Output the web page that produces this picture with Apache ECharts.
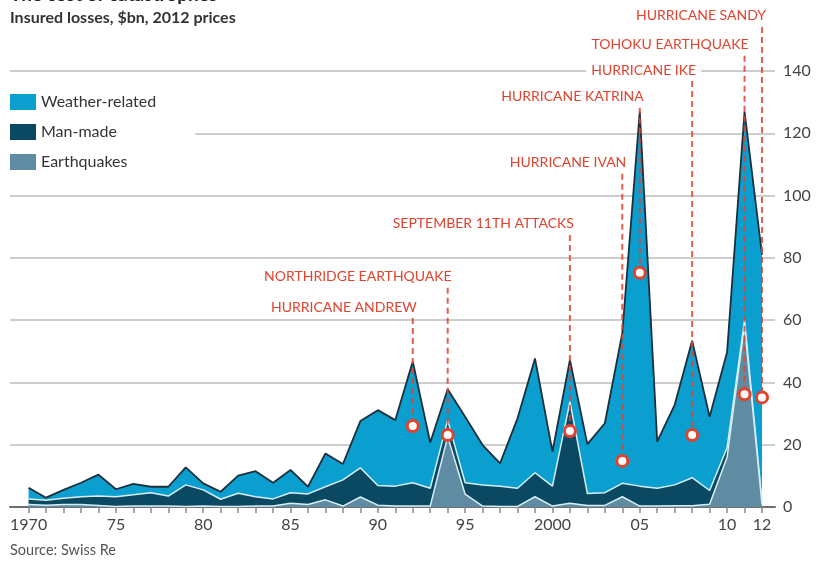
<!DOCTYPE html>
<html>
<head>
<meta charset="utf-8">
<title>The cost of catastrophes</title>
<script src="https://cdn.jsdelivr.net/npm/echarts@6/dist/echarts.min.js"></script>
<style>
  html, body { margin: 0; padding: 0; background: #fff; }
  #chart { width: 817px; height: 563px; }
</style>
</head>
<body>
<div id="chart"></div>
<script>
// Insured catastrophe losses by type, $bn at 2012 prices
const years = ['1970', '1971', '1972', '1973', '1974', '1975', '1976', '1977', '1978', '1979',
               '1980', '1981', '1982', '1983', '1984', '1985', '1986', '1987', '1988', '1989',
               '1990', '1991', '1992', '1993', '1994', '1995', '1996', '1997', '1998', '1999',
               '2000', '2001', '2002', '2003', '2004', '2005', '2006', '2007', '2008', '2009',
               '2010', '2011', '2012'];

const earthquakes = [0.8, 0.6, 0.8, 0.8, 0.5, 0.2, 0.3, 0.3, 0.3, 0.2,
                     0.3, 0.2, 0.2, 0.3, 0.3, 1.2, 0.8, 2.3, 0.3, 3.2,
                     0.6, 0.3, 0.3, 0.3, 22.6, 4.1, 0.3, 0.2, 0.2, 3.3,
                     0.3, 1.2, 0.5, 0.5, 3.3, 0.3, 0.3, 0.4, 0.4, 0.9,
                     16.0, 58.4, 0.8];

const manMade = [1.8, 1.6, 2.0, 2.5, 3.0, 3.1, 3.6, 4.3, 3.2, 6.9,
                 5.2, 2.3, 4.2, 3.0, 2.3, 3.4, 3.4, 4.2, 8.4, 9.4,
                 6.3, 6.4, 7.5, 5.7, 5.3, 3.7, 6.8, 6.5, 5.8, 7.7,
                 6.4, 32.6, 3.8, 4.1, 4.3, 6.4, 5.7, 6.7, 9.0, 4.4,
                 3.0, 1.6, 1.0];

const weatherRelated = [3.6, 0.8, 2.7, 4.5, 6.9, 2.4, 3.5, 1.9, 3.0, 5.6,
                        2.1, 2.4, 5.7, 8.2, 5.2, 7.3, 2.3, 10.7, 5.1, 15.0,
                        24.2, 21.2, 38.9, 14.7, 9.9, 21.2, 12.8, 7.3, 22.5, 36.7,
                        11.1, 13.4, 15.9, 22.3, 48.2, 120.3, 15.0, 25.7, 44.0, 23.7,
                        30.7, 67.0, 79.2];

// Notable events: year and loss level of the marker
const eventNames = ['HURRICANE ANDREW', 'NORTHRIDGE EARTHQUAKE', 'SEPTEMBER 11TH ATTACKS',
                    'HURRICANE IVAN', 'HURRICANE KATRINA', 'HURRICANE IKE',
                    'TOHOKU EARTHQUAKE', 'HURRICANE SANDY'];
const eventYears = ['1992', '1994', '2001', '2004', '2005', '2008', '2011', '2012'];
const eventLosses = [26.0, 23.1, 24.4, 14.8, 75.2, 23.1, 36.2, 35.2];

// Height (on the $bn scale) where each event caption sits
const captionLevels = [64.2, 73.9, 90.9, 110.5, 131.7, 140.3, 148.4, 157.7];

// Axis tick labels
const yTicks = [0, 20, 40, 60, 80, 100, 120, 140];
const xTickLabels = { '1970': '1970', '1975': '75', '1980': '80', '1985': '85', '1990': '90',
                      '1995': '95', '2000': '2000', '2005': '05', '2010': '10', '2012': '12' };

const FONT = 'Lato, "Open Sans", sans-serif';
const RED = '#e2432f';
const C_WEATHER = '#0a9fcf';
const C_MAN = '#0b4862';
const C_QUAKE = '#5f8ca2';
const C_SEAM = '#d7eef6';

const chart = echarts.init(document.getElementById('chart'), null, { renderer: 'canvas' });

const option = {
  backgroundColor: '#ffffff',
  animation: false,
  textStyle: { fontFamily: FONT },
  title: [
    { text: 'The cost of catastrophes', left: 10, top: -15, padding: 0,
      textStyle: { fontSize: 19, fontWeight: 'bold', color: '#222', fontFamily: FONT } },
    { text: 'Insured losses, $bn, 2012 prices', left: 10, top: 10, padding: 0,
      textStyle: { fontSize: 16, fontWeight: 'bold', color: '#333', fontFamily: FONT } },
    { text: 'Source: Swiss Re', left: 10, top: 543, padding: 0,
      textStyle: { fontSize: 14.5, fontWeight: 'normal', color: '#555', fontFamily: FONT } }
  ],
  legend: {
    orient: 'vertical',
    left: 10, top: 87,
    padding: [7, 39, 7, 0],
    backgroundColor: '#fff',
    itemWidth: 26, itemHeight: 16, itemGap: 14,
    icon: 'rect',
    data: ['Weather-related', 'Man-made', 'Earthquakes'],
    textStyle: { fontSize: 16, color: '#333', fontFamily: FONT }
  },
  grid: [
    { left: 28.6, right: 55, top: 71, bottom: 56 },
    { left: 10, right: 42, top: 71, bottom: 56 }
  ],
  xAxis: [
    { gridIndex: 0, type: 'category', data: years, boundaryGap: false,
      axisLine: { show: false },
      axisTick: { show: true, interval: 0, length: 6, lineStyle: { color: '#8a8a8a', width: 1.5 } },
      axisLabel: { show: true, interval: 0, margin: 10, fontSize: 16, color: '#444', fontFamily: FONT,
                   formatter: v => xTickLabels[v] || '' },
      splitLine: { show: false } },
    { gridIndex: 1, type: 'value', min: 0, max: 1,
      axisLine: { show: true, onZero: false, lineStyle: { color: '#6e6e6e', width: 2 } },
      axisTick: { show: false }, axisLabel: { show: false }, splitLine: { show: false } }
  ],
  yAxis: [
    { gridIndex: 0, type: 'value', min: yTicks[0], max: yTicks[yTicks.length - 1],
      show: false, splitLine: { show: false } },
    { gridIndex: 1, type: 'value', position: 'right', min: yTicks[0], max: yTicks[yTicks.length - 1], interval: 20,
      axisLine: { show: false }, axisTick: { show: false },
      axisLabel: { show: true, margin: 8, fontSize: 16, color: '#444', fontFamily: FONT },
      splitLine: { show: true, lineStyle: { color: '#bdbdbd', width: 1.5 } } }
  ],
  series: [
    { name: 'Earthquakes', type: 'line', xAxisIndex: 0, yAxisIndex: 0, stack: 'losses',
      data: earthquakes, symbol: 'none', z: 4,
      lineStyle: { color: C_SEAM, width: 1.5 },
      areaStyle: { color: C_QUAKE, opacity: 1 },
      itemStyle: { color: C_QUAKE } },
    { name: 'Man-made', type: 'line', xAxisIndex: 0, yAxisIndex: 0, stack: 'losses',
      data: manMade, symbol: 'none', z: 3,
      lineStyle: { color: C_SEAM, width: 1.5 },
      areaStyle: { color: C_MAN, opacity: 1 },
      itemStyle: { color: C_MAN } },
    { name: 'Weather-related', type: 'line', xAxisIndex: 0, yAxisIndex: 0, stack: 'losses',
      data: weatherRelated, symbol: 'none', z: 2,
      lineStyle: { color: '#1c2f3b', width: 1.8 },
      areaStyle: { color: C_WEATHER, opacity: 1 },
      itemStyle: { color: C_WEATHER } },
    { name: 'events', type: 'custom', xAxisIndex: 0, yAxisIndex: 0, z: 10, clip: false,
      data: eventYears.map((y, i) => [years.indexOf(y), eventLosses[i], captionLevels[i]]),
      encode: { x: 0, y: 1 },
      renderItem: function (params, api) {
        const i = params.dataIndex;
        const mark = api.coord([api.value(0), api.value(1)]);
        const cap = api.coord([api.value(0), api.value(2)]);
        return {
          type: 'group',
          children: [
            { type: 'line',
              shape: { x1: mark[0], y1: cap[1] + 11, x2: mark[0], y2: mark[1] },
              style: { stroke: RED, lineWidth: 2, lineDash: [6, 4], opacity: 0.85 } },
            { type: 'circle',
              shape: { cx: mark[0], cy: mark[1], r: 5.5 },
              style: { fill: '#fff', stroke: RED, lineWidth: 3 } },
            { type: 'text', x: mark[0] + 9, y: cap[1],
              style: { text: eventNames[i], align: 'right', verticalAlign: 'middle',
                       fill: RED, font: '14px ' + FONT,
                       backgroundColor: '#fff', padding: [1, 5, 1, 5] } }
          ]
        };
      }
    }
  ]
};

chart.setOption(option);
</script>
</body>
</html>
